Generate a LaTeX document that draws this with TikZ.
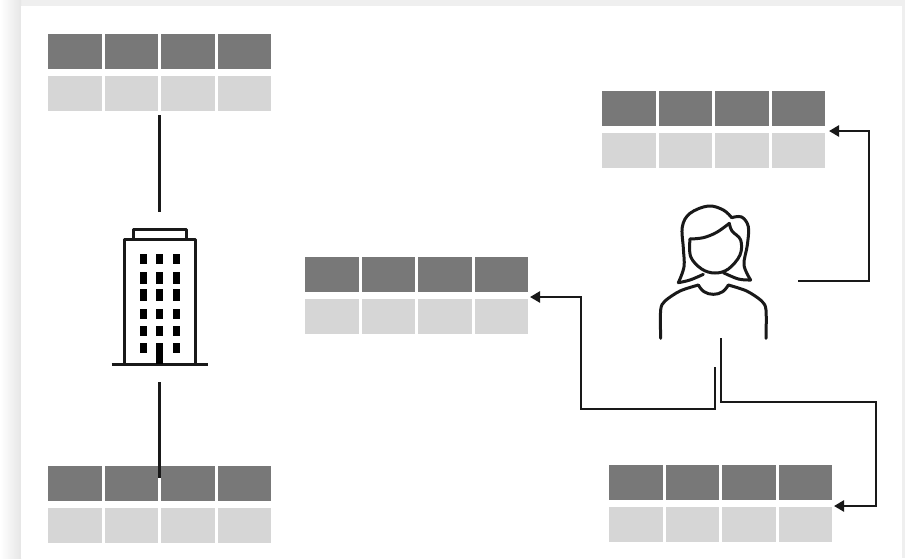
\documentclass[tikz,border=0pt]{standalone}
\usetikzlibrary{arrows.meta,positioning}
\definecolor{darkcell}{HTML}{787878}
\definecolor{lightcell}{HTML}{D6D6D6}
\definecolor{pagegray}{HTML}{EFEFEF}
\definecolor{shadowgray}{HTML}{E6E6E6}
\tikzset{
  cell/.style={draw=none,inner sep=0pt,outer sep=0pt,minimum width=53.5pt},
  headcell/.style={cell,fill=darkcell,minimum height=35pt},
  bodycell/.style={cell,fill=lightcell,minimum height=35pt},
  tablebox/.style={inner sep=0pt,outer sep=0pt,minimum width=223pt,minimum height=77pt},
  iconbox/.style={inner sep=0pt,outer sep=0pt},
  link/.style={line width=2.4pt,black!90,line cap=butt,line join=miter},
  arrowlink/.style={link,-{Triangle[length=10pt,width=11pt]}},
  icon/.style={line width=3pt,black!90,line cap=round,line join=round},
  win/.style={fill=black,draw=none}
}
% name, left x, top y
\newcommand{\gridtable}[3]{%
  \node[tablebox,anchor=north west] (#1) at (#2,#3) {};
  \foreach \i/\dx in {1/0,2/56.5,3/113,4/169.5}{
    \node[headcell,anchor=north west] (#1h\i) at ({#2+\dx},#3) {};
    \node[bodycell,anchor=north west] (#1b\i) at ({#2+\dx},{#3+42}) {};
  }%
}
\begin{document}
\begin{tikzpicture}[x=1pt,y=-1pt]
\useasboundingbox (0,0) rectangle (905,558);
% page
\fill[pagegray] (0,0) rectangle (905,558);
\shade[left color=white,right color=shadowgray] (0,0) rectangle (21,558);
\fill[white] (21,6) rectangle (902,558);

\gridtable{ta}{48}{34}
\gridtable{tb}{602}{91}
\gridtable{tc}{305}{257}
\gridtable{td}{48}{466}
\gridtable{te}{609}{465}

% building
\node[iconbox,minimum width=96pt,minimum height=137pt] (building) at (159.5,296) {};
\begin{scope}
\draw[icon,line cap=butt] (133,238) |- (186.5,229) -- (186.5,238);
\draw[icon,line cap=butt] (124.5,364) -- (124.5,239) -- (195,239) -- (195,364);
\draw[icon,line cap=butt] (111.5,364) -- (207.5,364);
\foreach \cx in {143,159.5,176}{
  \foreach \cy/\h in {259/10,278/12,295/12,314/10,331/10}{
    \fill[win] ({\cx-3.5},{\cy-\h/2}) rectangle ({\cx+3.5},{\cy+\h/2});
  }
}
\foreach \cx in {143,176}{\fill[win] ({\cx-3.5},343) rectangle ({\cx+3.5},353);}
\fill[win] (156,343) rectangle (163,364);
\end{scope}

% person
\node[iconbox,minimum width=110pt,minimum height=135pt] (person) at (713.5,272) {};
\begin{scope}[shift={(640pt,-195pt)},x=0.33333pt,y=-0.33333pt]
\draw[icon] plot[smooth,tension=0.6] coordinates {(190,238) (150,255) (115,263)};
\draw[icon] plot[smooth,tension=0.6] coordinates {(115,263) (132,215) (130,160) (127,95) (150,55) (205,33) (250,45) (275,68)};
\draw[icon] plot[smooth,tension=0.6] coordinates {(275,68) (305,66) (325,95) (322,150) (312,210) (332,255)};
\draw[icon] plot[smooth,tension=0.6] coordinates {(332,255) (295,252) (250,233)};
\draw[icon] plot[smooth,tension=0.6] coordinates {(150,132) (190,128) (230,112) (268,85)};
\draw[icon] plot[smooth,tension=0.6] coordinates {(268,85) (276,108) (302,135) (300,180) (265,222) (225,234) (185,222) (152,185) (150,132)};
\draw[icon] plot[smooth,tension=0.5] coordinates {(62,430) (62,345) (75,318) (120,288) (175,270)};
\draw[icon] plot[smooth,tension=0.7] coordinates {(175,270) (192,290) (220,298) (248,290) (265,270)};
\draw[icon] plot[smooth,tension=0.5] coordinates {(265,270) (320,288) (365,318) (378,345) (378,430)};
\end{scope}

% connector ends
\coordinate (pa) at (798,281);
\coordinate (pb) at (715,367);
\coordinate (pc) at (721,338);
\coordinate (ba) at (159.5,212);
\coordinate (bb) at (159.5,382);
\coordinate (taend) at (159.5,115);
\coordinate (tdend) at (159.5,478);
\coordinate (tbend) at (829,131);
\coordinate (tcend) at (530,297);
\coordinate (teend) at (834,506);

\draw[link] (taend) -- (ba);
\draw[link] (bb) -- (tdend);
\draw[arrowlink] (pa) -- (869,281) -- (869,131) -- (tbend);
\draw[arrowlink] (pb) -- (715,409) -- (581,409) -- (581,297) -- (tcend);
\draw[arrowlink] (pc) -- (721,402) -- (876,402) -- (876,506) -- (teend);
\end{tikzpicture}
\end{document}
